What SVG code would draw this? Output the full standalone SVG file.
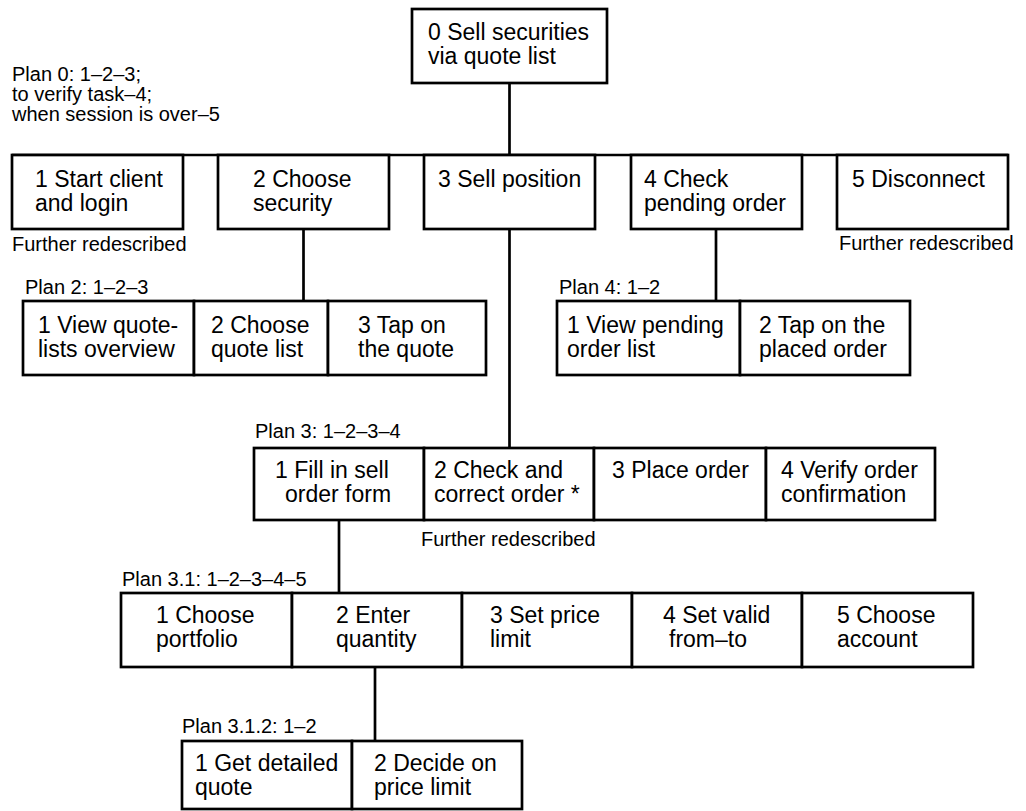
<svg xmlns="http://www.w3.org/2000/svg" width="1026" height="811" viewBox="0 0 1026 811">
<style>
.box{fill:#fff;stroke:#000;stroke-width:2.7}
.t{font-family:"Liberation Sans",Arial,sans-serif;font-size:23px;fill:#000}
.s{font-family:"Liberation Sans",Arial,sans-serif;font-size:20px;fill:#000}
.c{fill:none;stroke:#000;stroke-width:2.7}
</style>
<rect width="1026" height="811" fill="#fff"/>
<g id="connectors">
<line class="c" x1="509.5" y1="83" x2="509.5" y2="155"/>
<line class="c" x1="12" y1="155" x2="1008" y2="155"/>
<line class="c" x1="303.5" y1="229" x2="303.5" y2="301"/>
<line class="c" x1="509.5" y1="229" x2="509.5" y2="448"/>
<line class="c" x1="716" y1="229" x2="716" y2="301"/>
<line class="c" x1="339" y1="520" x2="339" y2="593"/>
<line class="c" x1="375" y1="667" x2="375" y2="741"/>
</g>
<g id="labels">
<text class="s" x="12" y="81">Plan 0: 1–2–3;</text>
<text class="s" x="12" y="101">to verify task–4;</text>
<text class="s" x="12" y="121">when session is over–5</text>
<text class="s" x="12" y="251">Further redescribed</text>
<text class="s" x="839" y="250">Further redescribed</text>
<text class="s" x="25" y="294">Plan 2: 1–2–3</text>
<text class="s" x="559" y="294">Plan 4: 1–2</text>
<text class="s" x="255" y="438">Plan 3: 1–2–3–4</text>
<text class="s" x="421" y="546">Further redescribed</text>
<text class="s" x="122" y="586">Plan 3.1: 1–2–3–4–5</text>
<text class="s" x="182" y="733">Plan 3.1.2: 1–2</text>
</g>
<g id="n0"><rect class="box" x="412" y="9" width="195" height="74"/><text class="t" x="428" y="40">0 Sell securities</text><text class="t" x="428" y="64">via quote list</text></g>
<g id="n1"><rect class="box" x="12" y="155" width="171" height="74"/><text class="t" x="35" y="187">1 Start client</text><text class="t" x="35" y="211">and login</text></g>
<g id="n2"><rect class="box" x="218" y="155" width="171" height="74"/><text class="t" x="253" y="187">2 Choose</text><text class="t" x="253" y="211">security</text></g>
<g id="n3"><rect class="box" x="424" y="155" width="171" height="74"/><text class="t" x="438" y="187">3 Sell position</text></g>
<g id="n4"><rect class="box" x="631" y="155" width="171" height="74"/><text class="t" x="644" y="187">4 Check</text><text class="t" x="644" y="211">pending order</text></g>
<g id="n5"><rect class="box" x="837" y="155" width="171" height="74"/><text class="t" x="852" y="187">5 Disconnect</text></g>
<g id="n2-1"><rect class="box" x="23" y="301" width="171" height="74"/><text class="t" x="38" y="333">1 View quote-</text><text class="t" x="38" y="357">lists overview</text></g>
<g id="n2-2"><rect class="box" x="194" y="301" width="134" height="74"/><text class="t" x="211" y="333">2 Choose</text><text class="t" x="211" y="357">quote list</text></g>
<g id="n2-3"><rect class="box" x="328" y="301" width="158" height="74"/><text class="t" x="358" y="333">3 Tap on</text><text class="t" x="358" y="357">the quote</text></g>
<g id="n4-1"><rect class="box" x="557" y="301" width="183" height="74"/><text class="t" x="567" y="333">1 View pending</text><text class="t" x="567" y="357">order list</text></g>
<g id="n4-2"><rect class="box" x="740" y="301" width="170" height="74"/><text class="t" x="759" y="333">2 Tap on the</text><text class="t" x="759" y="357">placed order</text></g>
<g id="n3-1"><rect class="box" x="254" y="448" width="170" height="72"/><text class="t" x="275" y="478">1 Fill in sell</text><text class="t" x="285" y="502">order form</text></g>
<g id="n3-2"><rect class="box" x="424" y="448" width="170" height="72"/><text class="t" x="434" y="478">2 Check and</text><text class="t" x="434" y="502">correct order *</text></g>
<g id="n3-3"><rect class="box" x="594" y="448" width="172" height="72"/><text class="t" x="612" y="478">3 Place order</text></g>
<g id="n3-4"><rect class="box" x="766" y="448" width="169" height="72"/><text class="t" x="781" y="478">4 Verify order</text><text class="t" x="781" y="502">confirmation</text></g>
<g id="n3-1-1"><rect class="box" x="121" y="593" width="171" height="74"/><text class="t" x="156" y="623">1 Choose</text><text class="t" x="156" y="647">portfolio</text></g>
<g id="n3-1-2"><rect class="box" x="292" y="593" width="170" height="74"/><text class="t" x="336" y="623">2 Enter</text><text class="t" x="336" y="647">quantity</text></g>
<g id="n3-1-3"><rect class="box" x="462" y="593" width="170" height="74"/><text class="t" x="490" y="623">3 Set price</text><text class="t" x="490" y="647">limit</text></g>
<g id="n3-1-4"><rect class="box" x="632" y="593" width="170" height="74"/><text class="t" x="663" y="623">4 Set valid</text><text class="t" x="669" y="647">from–to</text></g>
<g id="n3-1-5"><rect class="box" x="802" y="593" width="171" height="74"/><text class="t" x="837" y="623">5 Choose</text><text class="t" x="837" y="647">account</text></g>
<g id="n3-1-2-1"><rect class="box" x="182" y="741" width="170" height="68"/><text class="t" x="195" y="771">1 Get detailed</text><text class="t" x="195" y="795">quote</text></g>
<g id="n3-1-2-2"><rect class="box" x="352" y="741" width="170" height="68"/><text class="t" x="374" y="771">2 Decide on</text><text class="t" x="374" y="795">price limit</text></g>
</svg>
